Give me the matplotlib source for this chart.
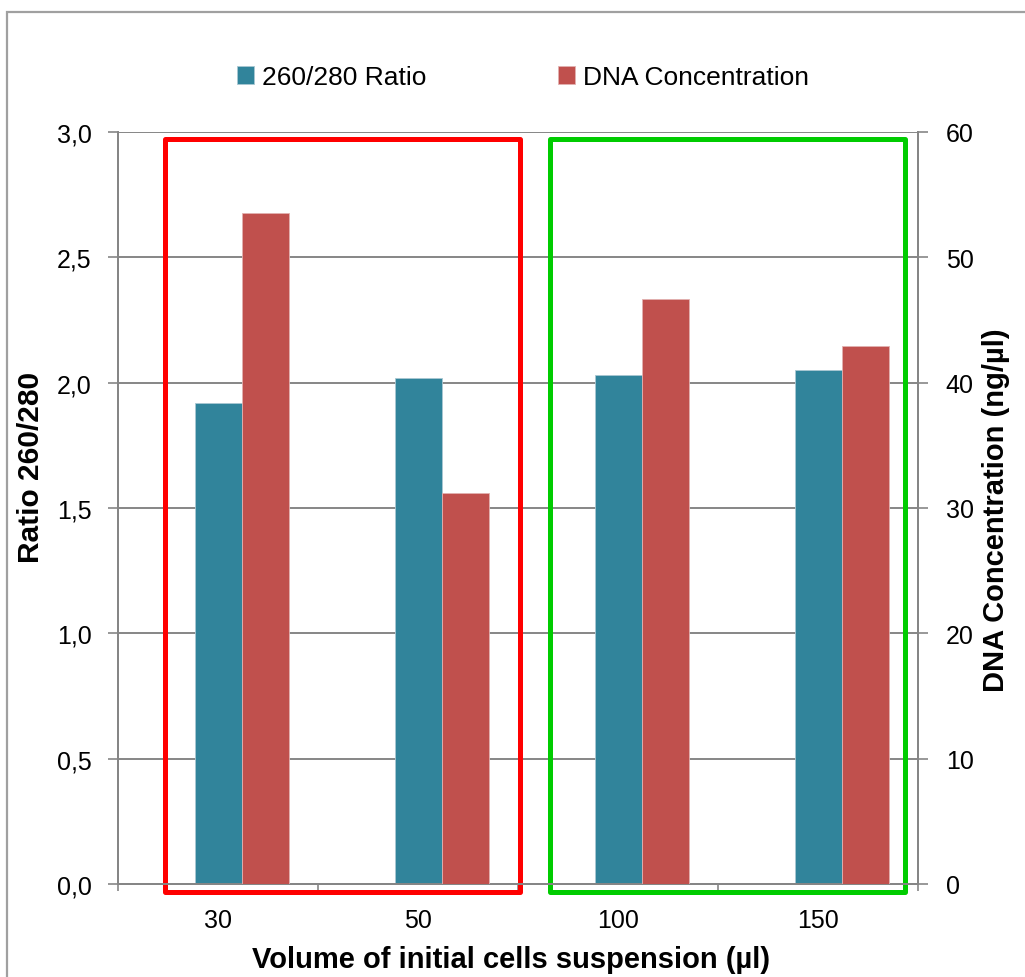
import numpy as np
import matplotlib
matplotlib.use("Agg")
import matplotlib.pyplot as plt
from matplotlib.patches import Rectangle

plt.rcParams['font.family'] = ['Liberation Sans', 'DejaVu Sans']

# data
volumes = ["30", "50", "100", "150"]
ratio_260_280 = [1.92, 2.02, 2.03, 2.05]
dna_conc = [53.5, 31.2, 46.7, 42.9]
ratio_ticks = [0.0, 0.5, 1.0, 1.5, 2.0, 2.5, 3.0]
ratio_ticklabels = ["0,0", "0,5", "1,0", "1,5", "2,0", "2,5", "3,0"]
conc_ticks = [0, 10, 20, 30, 40, 50, 60]

blue = "#31849B"
red = "#C0504D"
grey = "#868686"

fig = plt.figure(figsize=(10.25, 9.78), dpi=100)
ax = fig.add_axes([118/1025, 1-885/978, 800/1025, 752/978])
ax2 = ax.twinx()

x = np.arange(len(volumes))
w = 0.235
b1 = ax.bar(x, ratio_260_280, w, color=blue, edgecolor="#a9c8d2", linewidth=0.6, zorder=3,
            label="260/280 Ratio")
b2 = ax2.bar(x + w, dna_conc, w, color=red, edgecolor="#e2b1b0", linewidth=0.6, zorder=3,
             label="DNA Concentration")

ax.set_xlim(-0.5, 3.5)
ax.set_ylim(0, 3)
ax2.set_ylim(0, 60)

ax.set_yticks(ratio_ticks)
ax.set_yticklabels(ratio_ticklabels)
ax2.set_yticks(conc_ticks)
ax.yaxis.grid(True, color=grey, linewidth=1.4, zorder=0)
ax.set_axisbelow(True)

ax.set_xticks(x)
ax.set_xticklabels(volumes)
ax.set_xticks(np.arange(-0.5, 4, 1), minor=True)
ax.tick_params(axis="x", which="major", length=0, pad=17, labelsize=18)
ax.tick_params(axis="x", which="minor", length=5, color=grey, width=1.2, direction="out")
ax.tick_params(axis="y", length=7, color=grey, width=1.2, pad=12, labelsize=18)
ax2.tick_params(axis="y", length=7, color=grey, width=1.2, pad=13, labelsize=18)

for a in (ax, ax2):
    a.spines["top"].set_visible(False)
    for s in ("left", "right", "bottom"):
        a.spines[s].set_color(grey)
        a.spines[s].set_linewidth(1.4)

# highlight boxes around the two volume groups
ax.add_patch(Rectangle((-0.265, -0.032), 1.775, 3.005, fill=False, edgecolor="#FF0000",
                       linewidth=3.6, joinstyle="round", clip_on=False, zorder=5))
ax.add_patch(Rectangle((1.66, -0.032), 1.775, 3.005, fill=False, edgecolor="#00CC00",
                       linewidth=3.6, joinstyle="round", clip_on=False, zorder=5))

fig.text(511/1025, 1-960/978, "Volume of initial cells suspension (\u00b5l)", fontsize=21,
         fontweight="bold", ha="center", va="center")
fig.text(31/1025, 1-467/978, "Ratio 260/280", fontsize=21.5, fontweight="bold",
         rotation=90, ha="center", va="center")
fig.text(996/1025, 1-510/978, "DNA Concentration (ng/\u00b5l)", fontsize=21, fontweight="bold",
         rotation=90, ha="center", va="center")

fig.legend(handles=[b1, b2], loc="center", bbox_to_anchor=(523/1025, 1-78/978), ncol=2,
           frameon=False, fontsize=19, handlelength=0.65, handleheight=0.65,
           handletextpad=0.3, columnspacing=5.0)

# chart border
fig.add_artist(Rectangle((7/1025, -0.05), 1.1, 1-13/978+0.05, transform=fig.transFigure,
                         fill=False, edgecolor="#a0a0a0", linewidth=1.6))

fig.savefig("out.png", dpi=100, facecolor="white")
